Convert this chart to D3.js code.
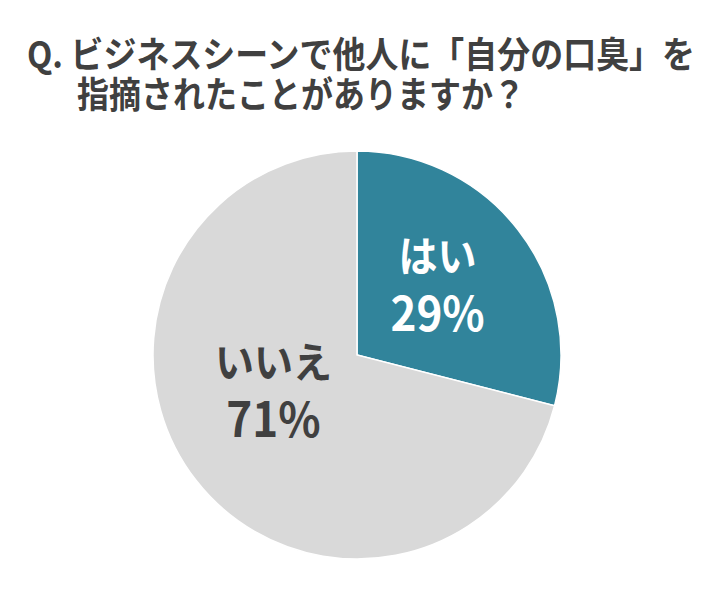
<!DOCTYPE html>
<html>
<head>
<meta charset="utf-8">
<script src="https://cdn.jsdelivr.net/npm/d3@7"></script>
<style>
  body { margin: 0; background: #fff; }
  text { font-family: "Noto Sans CJK JP", "Noto Sans", sans-serif; font-weight: bold; }
</style>
</head>
<body>
<div id="container"></div>
<script>
let w = 720;
let h = 593;

let labels = ['はい', 'いいえ'];
let values = [29, 71];
let colors = ['#31849b', '#d9d9d9'];
let labelColors = ['#ffffff', '#404040'];
let titleLines = ['Q. ビジネスシーンで他人に「自分の口臭」を', '指摘されたことがありますか？'];

let svg = d3.select('#container').append('svg')
            .attr('width', w)
            .attr('height', h);

// title, two lines in one text (the reference font is a bit taller than wide)
let title = svg.append('g')
               .attr('transform', 'translate(0,68) scale(1,1.12)')
               .append('text')
               .attr('font-size', 32)
               .attr('fill', '#404040');

title.append('tspan')
     .attr('x', 27)
     .attr('y', 0)
     .attr('textLength', 668)
     .attr('lengthAdjust', 'spacingAndGlyphs')
     .text(titleLines[0]);

title.append('tspan')
     .attr('x', 77)
     .attr('y', 36)
     .text(titleLines[1]);

let cx = 357, cy = 355, r = 204;

let data = labels.map((d, i) => ({ label: d, value: values[i], color: colors[i], tc: labelColors[i] }));

let pie = d3.pie().sort(null).value(d => d.value);
let arc = d3.arc().innerRadius(0).outerRadius(r);

let g = svg.append('g')
           .attr('transform', `translate(${cx},${cy})`);

let arcs = pie(data);

g.selectAll('path')
 .data(arcs)
 .enter()
 .append('path')
 .attr('d', arc)
 .attr('fill', d => d.data.color)
 .attr('stroke', '#fff')
 .attr('stroke-width', 1.5);

// labels sit near the half-radius centroid, nudged a little
let labelArc = d3.arc().innerRadius(r * 0.5).outerRadius(r * 0.5);
let nudge = [[0, -7], [-3, -26]];

let lab = g.selectAll('g.lab')
           .data(arcs)
           .enter()
           .append('g')
           .attr('class', 'lab')
           .attr('transform', (d, i) => {
             let c = labelArc.centroid(d);
             return `translate(${c[0] + nudge[i][0]},${c[1] + nudge[i][1]}) scale(1,1.09)`;
           })
           .append('text')
           .attr('text-anchor', 'middle')
           .attr('fill', d => d.data.tc);

lab.append('tspan')
   .attr('x', 0)
   .attr('y', -12)
   .attr('font-size', 39)
   .text(d => d.data.label);

lab.append('tspan')
   .attr('x', 0)
   .attr('y', 42)
   .attr('font-size', 44)
   .text(d => d.data.value + '%');
</script>
</body>
</html>
